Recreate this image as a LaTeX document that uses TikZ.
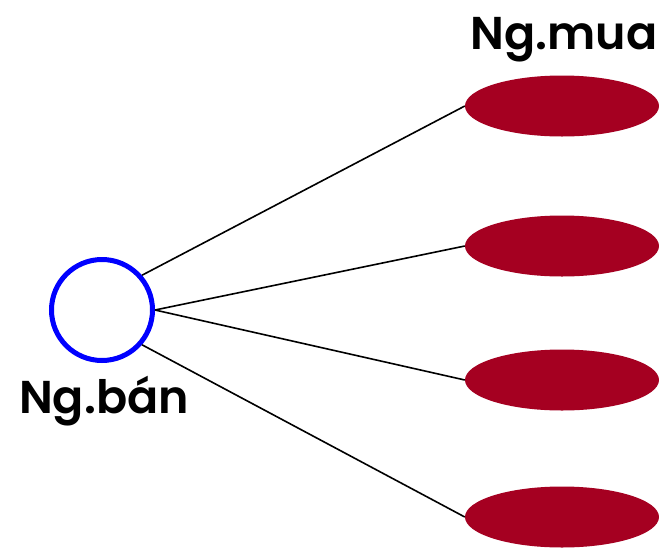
\documentclass[tikz,border=0pt]{standalone}
\usepackage{fontspec}
\setmainfont{Poppins}[BoldFont={Poppins SemiBold}]
\usetikzlibrary{shapes.geometric}
\definecolor{buyer}{HTML}{A50021}
\begin{document}
\begin{tikzpicture}[x=1pt,y=-1pt,
  seller/.style={circle,draw=blue,line width=5pt,minimum size=101pt,inner sep=0pt},
  buyerbox/.style={ellipse,fill=buyer,minimum width=194pt,minimum height=61pt,inner sep=0pt},
  link/.style={draw=black,line width=1.6pt},
  lbl/.style={font=\fontsize{46}{50}\selectfont\bfseries,inner sep=0pt}]
  \useasboundingbox (0,0) rectangle (659,547);
  \node[seller] (s) at (102,310) {};
  \node[buyerbox] (b1) at (562,106) {};
  \node[buyerbox] (b2) at (562,246) {};
  \node[buyerbox] (b3) at (562,380) {};
  \node[buyerbox] (b4) at (562,517) {};
  \node[lbl,anchor=base] (tb) at (564,49) {Ng.mua};
  \node[lbl,anchor=base] (ts) at (104,413) {Ng.bán};
  \draw[link] (s.41) -- (b1.west);
  \draw[link] (s.east) -- (b2.west);
  \draw[link] (s.east) -- (b3.west);
  \draw[link] (s.-41) -- (b4.west);
\end{tikzpicture}
\end{document}
